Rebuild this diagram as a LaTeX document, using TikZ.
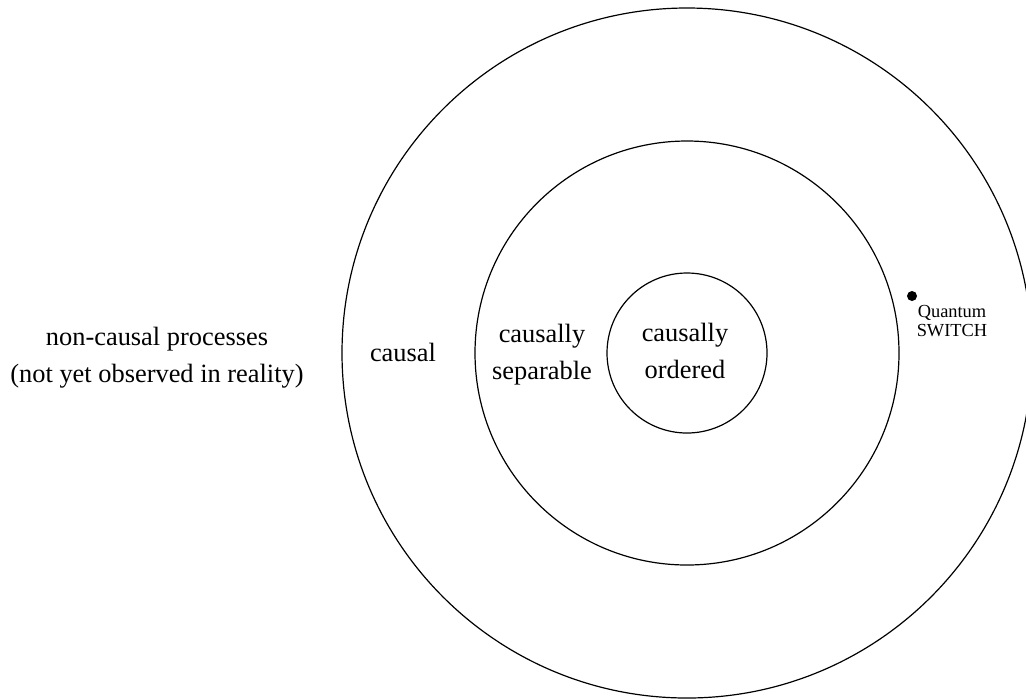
\documentclass[tikz,border=0pt]{standalone}
\usepackage{fontspec}
\setmainfont{Liberation Serif}
\usepackage{tikz}
\usetikzlibrary{positioning}

\tikzset{
  region/.style={line width=0.6pt, black},
  label/.style={align=center, inner sep=0pt, font=\fontsize{13.2}{18.5}\selectfont, anchor=base},
  small/.style={align=center, inner sep=0pt, font=\fontsize{9.2}{9.2}\selectfont, anchor=base}
}

\begin{document}
\begin{tikzpicture}[x=0.5pt, y=-0.5pt]
  \useasboundingbox (0,0) rectangle (1026,698);

  % Centre of the three regions
  \coordinate (c) at (687,353);

  % Nested regions
  \draw[region] (c) circle (345);
  \draw[region] (c) circle (212);
  \draw[region] (c) circle (80);

  % Region labels (base = last line)
  \node[label] (noncausal) at (157,382.5) {non-causal processes\\(not yet observed in reality)};
  \node[label] (causal) at (403,361.5) {causal};
  \node[label] (separable) at (542,379) {causally\\separable};
  \node[label] (ordered) at (685,378) {causally\\ordered};

  % Quantum switch
  \node[circle, fill, inner sep=0pt, minimum size=5pt] (qs) at (912,296) {};
  \node[small] (qslabel) at (952,336) {Quantum\\SWITCH};
\end{tikzpicture}
\end{document}
